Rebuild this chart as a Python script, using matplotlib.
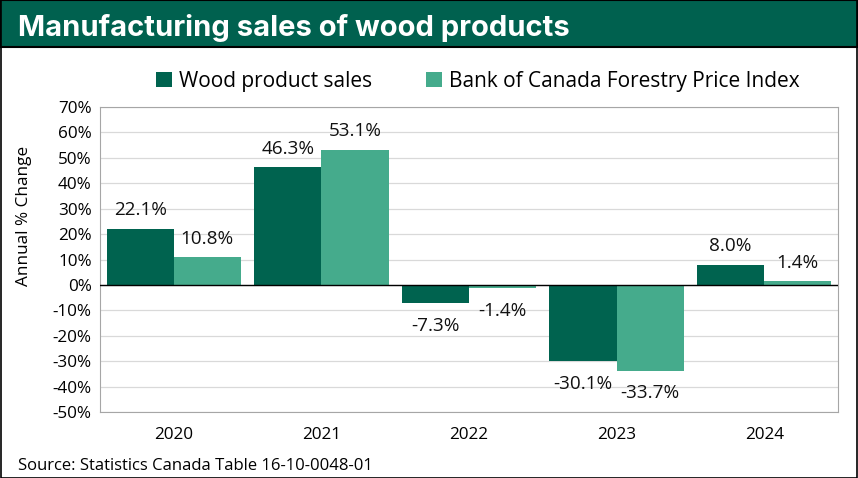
import numpy as np
import matplotlib.pyplot as plt
from matplotlib.patches import Rectangle

years = ["2020", "2021", "2022", "2023", "2024"]
wood_sales = [22.1, 46.3, -7.3, -30.1, 8.0]
forestry_index = [10.8, 53.1, -1.4, -33.7, 1.4]
yticks = list(range(-50, 71, 10))

dark = "#00634F"
light = "#45AB8C"
banner = "#00614F"

plt.rcParams['font.family'] = ['Open Sans', 'DejaVu Sans']

fig = plt.figure(figsize=(8.58, 4.78), dpi=100)
W, H = 858, 478

# title banner and outer frame
fig.patches.append(Rectangle((0, 1 - 47 / H), 1, 47 / H, transform=fig.transFigure,
                             facecolor=banner, edgecolor="black", lw=1.5, zorder=0))
fig.patches.append(Rectangle((0.001, 0.001), 0.998, 0.998, transform=fig.transFigure,
                             facecolor="none", edgecolor="black", lw=1.2, zorder=1))
fig.text(18 / W, 1 - 28 / H, "Manufacturing sales of wood products", color="white",
         fontsize=21, fontweight="bold", family=["Inter", "DejaVu Sans"], va="center", ha="left")

ax = fig.add_axes([100 / W, 1 - 412 / H, 738 / W, 305 / H])
x = np.arange(len(years))
w = 0.455
b1 = ax.bar(x - w / 2, wood_sales, w, color=dark, label="Wood product sales", zorder=3)
b2 = ax.bar(x + w / 2, forestry_index, w, color=light,
            label="Bank of Canada Forestry Price Index", zorder=3)

for bars, vals in ((b1, wood_sales), (b2, forestry_index)):
    for rect, v in zip(bars, vals):
        cx = rect.get_x() + rect.get_width() / 2
        ypos = v + 7.3 if v >= 0 else v - 8.9
        ax.text(cx, ypos, f"{v:.1f}%", ha="center", va="center", fontsize=13.6, color="#111111")

ax.set_xlim(-0.5, len(years) - 0.5)
ax.set_ylim(-50, 70)
ax.set_yticks(yticks)
ax.set_yticklabels([f"{t}%" for t in yticks], fontsize=12.3)
ax.set_xticks(x)
ax.set_xticklabels(years, fontsize=12.3)
ax.tick_params(axis="both", length=0, pad=6)
ax.tick_params(axis="x", pad=11)
ax.grid(axis="y", color="#D9D9D9", lw=0.9, zorder=0)
ax.axhline(0, color="black", lw=1, zorder=4)
for s in ax.spines.values():
    s.set_color("#A6A6A6")
ax.set_ylabel("Annual % Change", fontsize=12.3, va="center")
ax.yaxis.set_label_coords(-0.103, 0.643)

fig.legend(handles=[b1, b2], loc="center", bbox_to_anchor=(478 / W, 1 - 81 / H), ncol=2,
           frameon=False, fontsize=15, handlelength=0.75, handleheight=0.75,
           handletextpad=0.35, columnspacing=2.6)

fig.text(18 / W, 1 - 466 / H, "Source: Statistics Canada Table 16-10-0048-01",
         fontsize=12, ha="left", va="center")

fig.savefig("out.png", dpi=100)
